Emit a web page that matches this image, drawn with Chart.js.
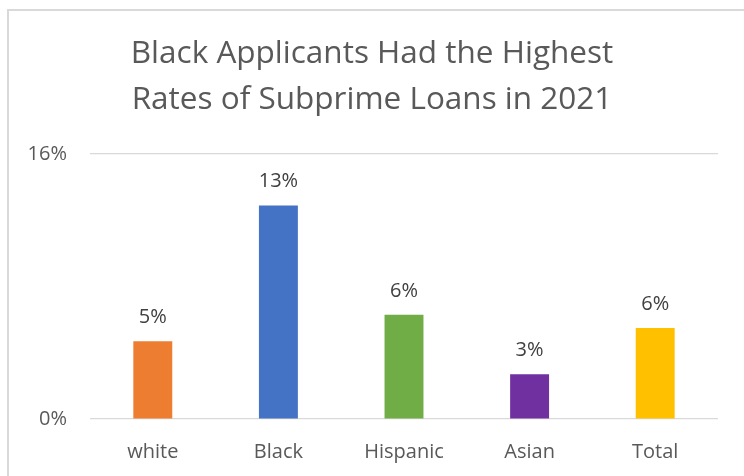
<!DOCTYPE html>
<html>
<head>
<meta charset="utf-8">
<script src="https://cdn.jsdelivr.net/npm/chart.js@4/dist/chart.umd.min.js"></script>
<style>
  html, body { margin: 0; padding: 0; background: #fff; overflow: hidden; }
  .frame {
    position: absolute; left: 7px; top: 9px; width: 800px; height: 600px;
    border-left: 2px solid #d9d9d9; border-top: 2px solid #d9d9d9;
  }
  .wrap { position: absolute; left: 0; top: 0; width: 744px; height: 476px; }
</style>
</head>
<body>
<div class="frame"></div>
<div class="wrap"><canvas id="subprime"></canvas></div>
<script>
const groups = ['white', 'Black', 'Hispanic', 'Asian', 'Total'];
const subprimeRates = [4.7, 12.9, 6.3, 2.7, 5.5];
const barColors = ['#ED7D31', '#4472C4', '#70AD47', '#7030A0', '#FFC000'];
const yTicks = [0, 16];

Chart.defaults.font.family = '"Open Sans", sans-serif';
Chart.defaults.color = '#595959';

// writes the rounded percentage above each bar
const barValueLabels = {
    id: 'barValueLabels',
    afterDatasetsDraw(chart) {
        const ctx = chart.ctx;
        const meta = chart.getDatasetMeta(0);
        ctx.save();
        ctx.font = '20px ' + Chart.defaults.font.family;
        ctx.fillStyle = '#404040';
        ctx.textAlign = 'center';
        ctx.textBaseline = 'alphabetic';
        meta.data.forEach((bar, i) => {
            const v = chart.data.datasets[0].data[i];
            ctx.fillText(Math.round(v) + '%', bar.x, bar.y - 18);
        });
        ctx.restore();
    }
};

new Chart(document.getElementById('subprime'), {
    type: 'bar',
    data: {
        labels: groups,
        datasets: [{
            data: subprimeRates,
            backgroundColor: barColors,
            barPercentage: 0.31,
            categoryPercentage: 1
        }]
    },
    plugins: [barValueLabels],
    options: {
        responsive: true,
        maintainAspectRatio: false,
        animation: false,
        layout: { padding: { top: 0, right: 26, bottom: 0, left: 26 } },
        plugins: {
            legend: { display: false },
            tooltip: { enabled: false },
            title: {
                display: true,
                text: ['Black Applicants Had the Highest', 'Rates of Subprime Loans in 2021'],
                color: '#595959',
                font: { size: 31.5, weight: 'normal', lineHeight: 1.43 },
                padding: { top: 32, bottom: 32 }
            }
        },
        scales: {
            x: {
                grid: { display: false },
                border: { display: false },
                ticks: { font: { size: 20 }, padding: 13, color: '#595959' },
                afterFit: (scale) => { scale.height = 57; }
            },
            y: {
                min: 0,
                max: 16,
                border: { display: false },
                grid: { color: '#d9d9d9', lineWidth: 1.2, drawTicks: false },
                afterBuildTicks: (scale) => {
                    scale.ticks = yTicks.map(v => ({ value: v }));
                },
                ticks: {
                    font: { size: 20 },
                    padding: 23,
                    color: '#595959',
                    callback: (v) => v + '%'
                },
                afterFit: (scale) => { scale.width = 64; }
            }
        }
    }
});
</script>
</body>
</html>
